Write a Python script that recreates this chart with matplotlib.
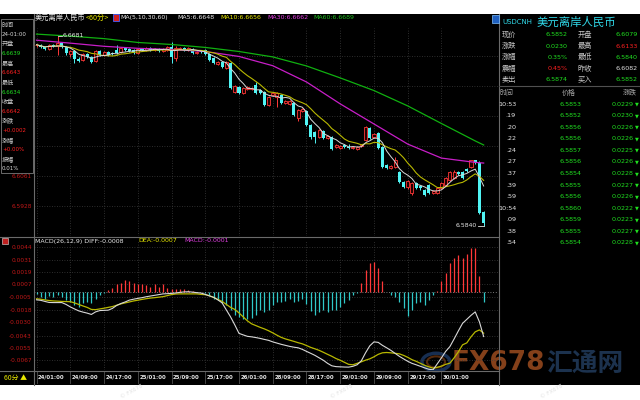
import matplotlib
matplotlib.use('Agg')
import matplotlib.pyplot as plt
import numpy as np
import pandas as pd
from matplotlib.patches import Rectangle, Circle
from matplotlib.lines import Line2D
import matplotlib.transforms as mtransforms

FAM = ['Noto Sans CJK SC', 'DejaVu Sans']
plt.rcParams['font.family'] = FAM

# ---------------- data ----------------
opens = [
    6.6639, 6.6641, 6.6632, 6.6623, 6.6641, 6.6636, 6.6649, 6.6632, 6.6601, 6.6614,
    6.6579, 6.6574, 6.6601, 6.6587, 6.6570, 6.6614, 6.6596, 6.6610, 6.6605, 6.6618,
    6.6610, 6.6627, 6.6623, 6.6618, 6.6605, 6.6623, 6.6618, 6.6627, 6.6618, 6.6623,
    6.6614, 6.6618, 6.6632, 6.6583, 6.6623, 6.6627, 6.6618, 6.6623, 6.6605, 6.6614,
    6.6618, 6.6601, 6.6583, 6.6556, 6.6565, 6.6539, 6.6561, 6.6433, 6.6455, 6.6428,
    6.6446, 6.6446, 6.6464, 6.6441, 6.6433, 6.6375, 6.6419, 6.6410, 6.6419, 6.6384,
    6.6380, 6.6384, 6.6318, 6.6348, 6.6348, 6.6287, 6.6256, 6.6233, 6.6260, 6.6229,
    6.6233, 6.6189, 6.6185, 6.6198, 6.6189, 6.6185, 6.6180, 6.6194, 6.6220, 6.6273,
    6.6233, 6.6251, 6.6189, 6.6109, 6.6096, 6.6101, 6.6078, 6.6034, 6.6012, 6.5986,
    6.6030, 6.6017, 6.5999, 6.6021, 6.5986, 6.5986, 6.6008, 6.6021, 6.6043, 6.6052,
    6.6078, 6.6078, 6.6092, 6.6101, 6.6132, 6.6118, 6.5901]
closes = [
    6.6642, 6.6632, 6.6623, 6.6641, 6.6636, 6.6649, 6.6632, 6.6605, 6.6614, 6.6579,
    6.6570, 6.6601, 6.6587, 6.6565, 6.6614, 6.6596, 6.6610, 6.6596, 6.6601, 6.6605,
    6.6627, 6.6618, 6.6614, 6.6605, 6.6623, 6.6618, 6.6627, 6.6618, 6.6623, 6.6614,
    6.6623, 6.6632, 6.6587, 6.6627, 6.6627, 6.6618, 6.6627, 6.6605, 6.6610, 6.6610,
    6.6601, 6.6574, 6.6561, 6.6565, 6.6543, 6.6565, 6.6450, 6.6459, 6.6428, 6.6450,
    6.6455, 6.6450, 6.6428, 6.6428, 6.6375, 6.6410, 6.6428, 6.6428, 6.6384, 6.6393,
    6.6393, 6.6331, 6.6353, 6.6357, 6.6287, 6.6233, 6.6233, 6.6264, 6.6229, 6.6238,
    6.6180, 6.6198, 6.6194, 6.6189, 6.6185, 6.6189, 6.6189, 6.6198, 6.6278, 6.6229,
    6.6247, 6.6185, 6.6101, 6.6096, 6.6105, 6.6132, 6.6034, 6.6012, 6.6039, 6.6030,
    6.6008, 6.6008, 6.5977, 6.5986, 6.5995, 6.6008, 6.6030, 6.6052, 6.6078, 6.6078,
    6.6070, 6.6052, 6.6083, 6.6132, 6.6118, 6.5897, 6.5852]
highs = [
    6.6643, 6.6645, 6.6636, 6.6645, 6.6645, 6.6681, 6.6654, 6.6636, 6.6618, 6.6618,
    6.6587, 6.6605, 6.6605, 6.6592, 6.6618, 6.6618, 6.6614, 6.6614, 6.6610, 6.6641,
    6.6632, 6.6632, 6.6627, 6.6623, 6.6627, 6.6627, 6.6632, 6.6632, 6.6627, 6.6627,
    6.6627, 6.6636, 6.6654, 6.6636, 6.6632, 6.6632, 6.6632, 6.6627, 6.6614, 6.6618,
    6.6623, 6.6605, 6.6587, 6.6570, 6.6570, 6.6570, 6.6565, 6.6464, 6.6459, 6.6455,
    6.6459, 6.6455, 6.6477, 6.6446, 6.6437, 6.6415, 6.6433, 6.6433, 6.6424, 6.6397,
    6.6397, 6.6388, 6.6357, 6.6362, 6.6353, 6.6291, 6.6260, 6.6269, 6.6264, 6.6242,
    6.6238, 6.6203, 6.6198, 6.6203, 6.6203, 6.6194, 6.6194, 6.6203, 6.6282, 6.6278,
    6.6251, 6.6256, 6.6194, 6.6114, 6.6109, 6.6145, 6.6083, 6.6039, 6.6043, 6.6034,
    6.6034, 6.6021, 6.6003, 6.6025, 6.5999, 6.6012, 6.6034, 6.6056, 6.6083, 6.6087,
    6.6083, 6.6083, 6.6096, 6.6133, 6.6133, 6.6127, 6.5906]
lows = [
    6.6634, 6.6627, 6.6618, 6.6618, 6.6632, 6.6596, 6.6627, 6.6596, 6.6587, 6.6561,
    6.6565, 6.6570, 6.6583, 6.6561, 6.6565, 6.6592, 6.6592, 6.6592, 6.6596, 6.6601,
    6.6605, 6.6614, 6.6610, 6.6601, 6.6601, 6.6614, 6.6614, 6.6614, 6.6614, 6.6610,
    6.6610, 6.6614, 6.6561, 6.6570, 6.6618, 6.6614, 6.6614, 6.6601, 6.6601, 6.6605,
    6.6596, 6.6570, 6.6556, 6.6552, 6.6539, 6.6534, 6.6446, 6.6428, 6.6424, 6.6424,
    6.6441, 6.6441, 6.6424, 6.6424, 6.6371, 6.6371, 6.6415, 6.6366, 6.6380, 6.6380,
    6.6375, 6.6326, 6.6304, 6.6344, 6.6282, 6.6225, 6.6207, 6.6229, 6.6225, 6.6225,
    6.6176, 6.6185, 6.6180, 6.6185, 6.6180, 6.6180, 6.6176, 6.6189, 6.6216, 6.6225,
    6.6229, 6.6180, 6.6096, 6.6092, 6.6092, 6.6096, 6.6030, 6.6008, 6.6003, 6.5977,
    6.6003, 6.5999, 6.5972, 6.5981, 6.5981, 6.5981, 6.6003, 6.6017, 6.6039, 6.6047,
    6.6065, 6.6047, 6.6078, 6.6096, 6.6114, 6.5893, 6.5840]

ma_idx = [0, 8, 16, 24, 32, 40, 48, 56, 64, 72, 80, 88, 96, 104, 106]
ma30 = [6.6662, 6.6649, 6.6635, 6.6626, 6.6621, 6.6612, 6.6590, 6.6549, 6.6477,
        6.6380, 6.6291, 6.6202, 6.6140, 6.6121, 6.6118]
ma60 = [6.6689, 6.6680, 6.6669, 6.6652, 6.6643, 6.6630, 6.6612, 6.6588, 6.6548,
        6.6495, 6.6439, 6.6371, 6.6293, 6.6216, 6.6198]

macd_hist = [
    -0.0002, -0.0005, -0.0007, -0.0004, -0.0005, -0.0003, -0.0005, -0.0008, -0.0010, -0.0013,
    -0.0015, -0.0011, -0.0010, -0.0011, -0.0007, -0.0003, -0.0001, 0.0002, 0.0004, 0.0007,
    0.0008, 0.0011, 0.0010, 0.0008, 0.0007, 0.0007, 0.0006, 0.0005, 0.0007, 0.0005,
    0.0007, 0.0004, 0.0003, 0.0003, 0.0003, 0.0003, 0.0002, 0.0001, 0.0000, -0.00003,
    -0.0001, -0.0003, -0.0007, -0.0008, -0.0011, -0.0013, -0.0018, -0.0023, -0.0025, -0.0027,
    -0.0027, -0.0026, -0.0023, -0.0018, -0.0020, -0.0018, -0.0013, -0.0010, -0.0010, -0.0009,
    -0.0007, -0.0010, -0.0009, -0.0007, -0.0012, -0.0019, -0.0023, -0.0020, -0.0018, -0.0020,
    -0.0018, -0.0018, -0.0015, -0.0011, -0.0008, -0.0003, -0.0001, 0.0008, 0.0021, 0.0028,
    0.0029, 0.0023, 0.0010, 0.0000, -0.0003, -0.0005, -0.0010, -0.0016, -0.0024, -0.0018,
    -0.0011, -0.0010, -0.0013, -0.0008, -0.0003, 0.0001, 0.0010, 0.0018, 0.0028, 0.0033,
    0.0036, 0.0033, 0.0037, 0.0043, 0.0043, 0.0015, -0.0010]
diff = [
    -0.00080, -0.00085, -0.00096, -0.00106, -0.00107, -0.00107, -0.00107, -0.00125, -0.00149, -0.00169,
    -0.00188, -0.00200, -0.00210, -0.00223, -0.00198, -0.00185, -0.00183, -0.00181, -0.00164, -0.00135,
    -0.00116, -0.00101, -0.00083, -0.00074, -0.00066, -0.00059, -0.00050, -0.00043, -0.00036, -0.00029,
    -0.00022, -0.00020, -0.00017, -0.00013, -0.00007, -0.00003, -0.00001, -0.00005, -0.00010, -0.00014,
    -0.00027, -0.00042, -0.00056, -0.00081, -0.00110, -0.00179, -0.00247, -0.00325, -0.00408, -0.00423,
    -0.00437, -0.00442, -0.00449, -0.00457, -0.00467, -0.00476, -0.00491, -0.00503, -0.00515, -0.00525,
    -0.00535, -0.00543, -0.00549, -0.00564, -0.00584, -0.00603, -0.00623, -0.00647, -0.00671, -0.00701,
    -0.00725, -0.00733, -0.00735, -0.00737, -0.00738, -0.00730, -0.00715, -0.00676, -0.00598, -0.00530,
    -0.00491, -0.00496, -0.00525, -0.00549, -0.00574, -0.00603, -0.00632, -0.00657, -0.00681, -0.00701,
    -0.00715, -0.00730, -0.00745, -0.00759, -0.00764, -0.00706, -0.00647, -0.00584, -0.00537, -0.00462,
    -0.00384, -0.00310, -0.00271, -0.00232, -0.00198, -0.00296, -0.00439]
dea = [
    -0.00070, -0.00074, -0.00081, -0.00087, -0.00091, -0.00093, -0.00096, -0.00097, -0.00098, -0.00110,
    -0.00125, -0.00140, -0.00154, -0.00174, -0.00176, -0.00169, -0.00162, -0.00154, -0.00146, -0.00133,
    -0.00120, -0.00110, -0.00101, -0.00091, -0.00084, -0.00076, -0.00069, -0.00063, -0.00059, -0.00054,
    -0.00049, -0.00039, -0.00029, -0.00023, -0.00022, -0.00022, -0.00022, -0.00022, -0.00022, -0.00027,
    -0.00030, -0.00040, -0.00057, -0.00076, -0.00096, -0.00125, -0.00154, -0.00174, -0.00208, -0.00247,
    -0.00286, -0.00315, -0.00332, -0.00349, -0.00364, -0.00382, -0.00403, -0.00426, -0.00447, -0.00462,
    -0.00474, -0.00486, -0.00499, -0.00510, -0.00527, -0.00545, -0.00559, -0.00574, -0.00593, -0.00613,
    -0.00632, -0.00654, -0.00671, -0.00691, -0.00711, -0.00715, -0.00701, -0.00686, -0.00670, -0.00657,
    -0.00637, -0.00613, -0.00598, -0.00595, -0.00598, -0.00603, -0.00608, -0.00623, -0.00642, -0.00665,
    -0.00681, -0.00701, -0.00720, -0.00735, -0.00748, -0.00740, -0.00728, -0.00711, -0.00699, -0.00647,
    -0.00589, -0.00520, -0.00501, -0.00442, -0.00393, -0.00374, -0.00406]

time_idx = [0, 8, 16, 24, 32, 40, 48, 56, 64, 72, 80, 88, 96]
time_labels = ['24/01:00', '24/09:00', '24/17:00', '25/01:00', '25/09:00', '25/17:00',
               '26/01:00', '28/09:00', '28/17:00', '29/01:00', '29/09:00', '29/17:00', '30/01:00']
price_ticks = [6.5928, 6.6061, 6.6194, 6.6327, 6.6460, 6.6593]
price_tick_labels = ['6.5928', '6.6061', '', '', '', '']   # the others sit under the info box
macd_ticks = [0.0044, 0.0031, 0.0019, 0.0007, -0.0005, -0.0018, -0.0030, -0.0043, -0.0055, -0.0067]
hi_label, lo_label = 6.6681, 6.5840

quote_labels = [('现价', '开盘'), ('涨跌', '最高'), ('涨幅', '最低'), ('震幅', '昨收'), ('卖出', '买入')]
quote_values = [('6.5852', '6.6079'), ('0.0230', '6.6133'), ('0.35%', '6.5840'),
                ('0.45%', '6.6082'), ('6.5874', '6.5852')]
quote_colors = [('#20e020', '#20e020'), ('#20e020', '#ff2020'), ('#20e020', '#20e020'),
                ('#ff2020', '#e0e0e0'), ('#20e020', '#20e020')]
tick_times = ['10:53', '.19', '.20', '.22', '.24', '.27', '.37', '.39', '.59', '10:54', '.09', '.38', '.54']
tick_prices = ['6.5853', '6.5852', '6.5856', '6.5856', '6.5857', '6.5856', '6.5854',
               '6.5855', '6.5856', '6.5860', '6.5859', '6.5855', '6.5854']
tick_changes = ['0.0229', '0.0230', '0.0226', '0.0226', '0.0225', '0.0226', '0.0228',
                '0.0227', '0.0226', '0.0222', '0.0223', '0.0227', '0.0228']
info_rows = [('时间', '24-01:00', '#d8d8d8'), ('开盘', '6.6639', '#20e020'),
             ('最高', '6.6643', '#ff2020'), ('最低', '6.6634', '#20e020'),
             ('收盘', '6.6642', '#ff2020'), ('涨跌', '+0.0002', '#ff2020'),
             ('涨幅', '+0.00%', '#ff2020'), ('振幅', '0.01%', '#d8d8d8')]

# ---------------- figure ----------------
W, H = 640, 400
fig = plt.figure(figsize=(6.4, 4.0), dpi=100, facecolor='white')


def fx(x):
    return x / W


def fy(y):
    return 1 - y / H


def T(x, y, s, c='#d0d0d0', fs=4.6, ha='left', va='center', fam=None, z=6, **kw):
    fig.text(fx(x), fy(y), s, color=c, fontsize=fs, ha=ha, va=va,
             family=fam if fam else FAM, zorder=z, **kw)


def L(x0, x1, y0, y1, c='#6a6a6a', lw=0.8, z=4):
    fig.add_artist(Line2D([fx(x0), fx(x1)], [fy(y0), fy(y1)], color=c, lw=lw,
                          transform=fig.transFigure, zorder=z))


fig.add_artist(Rectangle((0, fy(385)), 1, (385 - 14) / H, transform=fig.transFigure,
                         facecolor='black', edgecolor='none', zorder=-10))

UP = '#ff3838'
DN = '#50f4f4'
GRID = '#3c3c3c'
LBL_RED = '#c01818'

o = np.array(opens); h = np.array(highs); l = np.array(lows); c = np.array(closes)
n = len(c)
idx = np.arange(n)
XL = (-0.6, 109.4)

# ---------- watermark (behind everything else) ----------
fig.add_artist(Circle((fx(436), fy(362)), 14 / W, transform=fig.transFigure, facecolor='none',
                      edgecolor='#1e3a66', lw=2.5, alpha=0.8, zorder=-5))
fig.add_artist(Circle((fx(436), fy(362)), 9 / W, transform=fig.transFigure, facecolor='none',
                      edgecolor='#6a3410', lw=1.5, alpha=0.8, zorder=-5))
T(452, 363, 'FX678', '#84401a', 19, fam='DejaVu Sans', z=-4, fontweight='bold')
T(546, 363, '汇通网', '#1c324e', 18.5, z=-4, fontweight='bold')

# ---------- price pane ----------
ax = fig.add_axes([fx(34), fy(236), fx(498) - fx(34), (236 - 14) / H])
ax.set_facecolor('none')
P_BOT, P_TOP = 6.5795, 6.6778
ax.set_ylim(P_BOT, P_TOP)
ax.set_xlim(*XL)
for s in ax.spines.values():
    s.set_visible(False)
ax.set_xticks([])
ax.set_yticks(price_ticks)
ax.set_yticklabels(price_tick_labels)
ax.tick_params(axis='y', length=0, pad=1.5, labelsize=4.2, labelcolor=LBL_RED)
for t in ax.get_yticklabels():
    t.set_family('DejaVu Sans')
for v in price_ticks:
    ax.axhline(v, color=GRID, lw=0.6, ls=(0, (1, 2)), zorder=0)
ax.vlines(time_idx, P_BOT, 6.6716, color=GRID, lw=0.6, ls=(0, (1, 2)), zorder=0)

up = c >= o
blo = np.minimum(o, c)
bhi = np.maximum(o, c)
hgt = np.maximum(bhi - blo, 0.00004)
ax.vlines(idx[up], bhi[up], h[up], color=UP, lw=0.7, zorder=2)
ax.vlines(idx[up], l[up], blo[up], color=UP, lw=0.7, zorder=2)
ax.vlines(idx[~up], l[~up], h[~up], color=DN, lw=0.7, zorder=2)
ax.bar(idx[up], hgt[up], bottom=blo[up], width=0.72, facecolor='#200000',
       edgecolor=UP, linewidth=0.6, zorder=2)
ax.bar(idx[~up], hgt[~up], bottom=blo[~up], width=0.72, color=DN, linewidth=0, zorder=2)

ma5 = pd.Series(c).rolling(5, min_periods=1).mean()
ma10 = pd.Series(c).rolling(10, min_periods=1).mean()
ax.plot(ma_idx, ma60, color='#10b010', lw=0.9, zorder=3)
ax.plot(ma_idx, ma30, color='#c81ec8', lw=0.9, zorder=3)
ax.plot(idx, ma10, color='#b8b800', lw=0.8, zorder=3)
ax.plot(idx, ma5, color='#d8d8d8', lw=0.7, zorder=3)

ih = int(np.argmax(h))
il = int(np.argmin(l))
ax.plot([ih, ih + 1.0], [hi_label, hi_label], color='#e0e0e0', lw=0.6, zorder=4)
ax.text(ih + 1.1, hi_label, f'{hi_label:.4f}', color='#e8e8e8', fontsize=4.4,
        ha='left', va='center', family='DejaVu Sans', zorder=5)
ax.plot([il - 1.4, il], [lo_label, lo_label], color='#e0e0e0', lw=0.6, zorder=4)
ax.text(il - 1.5, lo_label, f'{lo_label:.4f}', color='#e8e8e8', fontsize=4.4,
        ha='right', va='center', family='DejaVu Sans', zorder=5)

# ---------- MACD pane ----------
axm = fig.add_axes([fx(34), fy(370), fx(498) - fx(34), (370 - 237) / H])
axm.set_facecolor('none')
axm.set_ylim(-0.00766, 0.00534)
axm.set_xlim(*XL)
for s in axm.spines.values():
    s.set_visible(False)
axm.set_yticks(macd_ticks)
axm.set_yticklabels([f'{v:.4f}' for v in macd_ticks])
axm.tick_params(axis='y', length=0, pad=1.5, labelsize=4.2, labelcolor=LBL_RED)
for t in axm.get_yticklabels():
    t.set_family('DejaVu Sans')
for v in macd_ticks:
    axm.axhline(v, color=GRID, lw=0.6, ls=(0, (1, 2)), zorder=0)
axm.vlines(time_idx, -0.00766, 0.0050, color=GRID, lw=0.6, ls=(0, (1, 2)), zorder=0)
axm.set_xticks([])
hist = np.array(macd_hist)
axm.axhline(0, color='#a0a0a0', lw=0.6, ls=(0, (1, 2.2)), zorder=1)
axm.vlines(idx, 0, hist, colors=[UP if v > 0 else '#30c8c8' for v in hist], lw=0.9, zorder=2)
axm.plot(idx, dea, color='#b8b800', lw=0.9, zorder=3)
axm.plot(idx, diff, color='#d8d8d8', lw=0.8, zorder=3)

trx = mtransforms.blended_transform_factory(axm.transData, fig.transFigure)
for i, s in zip(time_idx, time_labels):
    axm.text(i + 0.35, fy(377), s, transform=trx, color='#e8e8e8', fontsize=3.9,
             fontweight='bold', family='DejaVu Sans', ha='left', va='center', clip_on=False)
    axm.add_line(Line2D([i, i], [fy(371), fy(383)], transform=trx, color='#505050',
                        lw=0.6, clip_on=False))

# ---------- frame lines ----------
L(33.5, 33.5, 14, 385)
L(499, 499, 14, 385)
L(0, 499, 237, 237)
L(0, 499, 370.5, 370.5)
L(499, 640, 86, 86, c='#505050')

# ---------- header texts ----------
T(35, 17.5, '美元离岸人民币', '#e8e8e8', 5.2)
T(86, 17.5, '<60分>', '#e8e800', 5.2)
fig.add_artist(Rectangle((fx(113), fy(21)), 6 / W, 7 / H, transform=fig.transFigure,
                         facecolor='#d02020', edgecolor='#4060ff', lw=0.6, zorder=5))
T(120, 17.5, 'MA(5,10,30,60)', '#e8e8e8', 4.5, fam='DejaVu Sans')
T(177, 17.5, 'MA5:6.6648', '#e8e8e8', 4.5, fam='DejaVu Sans')
T(220, 17.5, 'MA10:6.6656', '#e8e800', 4.5, fam='DejaVu Sans')
T(267, 17.5, 'MA30:6.6662', '#e040e0', 4.5, fam='DejaVu Sans')
T(313, 17.5, 'MA60:6.6689', '#20c020', 4.5, fam='DejaVu Sans')

T(35, 241, 'MACD(26,12,9) DIFF:-0.0008', '#e8e8e8', 4.5, fam='DejaVu Sans')
T(138, 241, 'DEA:-0.0007', '#e8e800', 4.5, fam='DejaVu Sans')
T(184, 241, 'MACD:-0.0001', '#e040e0', 4.5, fam='DejaVu Sans')
fig.add_artist(Rectangle((fx(2), fy(244)), 6 / W, 6 / H, transform=fig.transFigure,
                         facecolor='#c02020', edgecolor='#e0e0e0', lw=0.4, zorder=5))

T(4, 377.5, '60分 ▲', '#e8e800', 5.0)

# ---------- left info box ----------
fig.add_artist(Rectangle((fx(0.5), fy(173)), 32.5 / W, (173 - 19) / H, transform=fig.transFigure,
                         facecolor='black', edgecolor='#7a7a7a', lw=0.6, zorder=5))
y0 = 25
for k, (lab, val, col) in enumerate(info_rows):
    T(2, y0 + k * 19.2, lab, '#c8c8c8', 4.4)
    T(2, y0 + 9.6 + k * 19.2, val, col, 4.0, fam='DejaVu Sans')

# ---------- right panel ----------
fig.add_artist(Rectangle((fx(492), fy(23)), 7 / W, 8 / H, transform=fig.transFigure,
                         facecolor='#2060c0', edgecolor='#80c0ff', lw=0.5, zorder=5))
T(502, 22, 'USDCNH', '#30d8e8', 5.0, fam='DejaVu Sans')
T(537, 22, '美元离岸人民币', '#30d8e8', 8.2)
for k in range(len(quote_labels)):
    y = 35 + k * 11.2
    T(502, y, quote_labels[k][0], '#c8c8c8', 5.2)
    T(568, y, quote_values[k][0], quote_colors[k][0], 4.6, ha='right', fam='DejaVu Sans')
    T(578, y, quote_labels[k][1], '#c8c8c8', 5.2)
    T(638, y, quote_values[k][1], quote_colors[k][1], 4.6, ha='right', fam='DejaVu Sans')
T(500, 92.5, '时间', '#a8a8a8', 5.0)
T(569, 92.5, '价格', '#a8a8a8', 5.0, ha='center')
T(637, 92.5, '涨跌', '#a8a8a8', 5.0, ha='right')
for k in range(len(tick_times)):
    y = 104 + k * 11.58
    T(516, y, tick_times[k], '#e8e8e8', 4.6, ha='right', fam='DejaVu Sans')
    T(582, y, tick_prices[k], '#20e020', 4.6, ha='right', fam='DejaVu Sans')
    T(634, y, tick_changes[k], '#20e020', 4.6, ha='right', fam='DejaVu Sans')
    T(634.5, y, '▼', '#20e020', 3.6, fam='DejaVu Sans')

# faint watermarks in the bottom white strip
for xw in (120, 330, 540):
    T(xw, 392, '© FX678', '#e2e2e2', 4.0, fam='DejaVu Sans', z=1, rotation=30)

fig.savefig('out.png', dpi=100, facecolor='white')
